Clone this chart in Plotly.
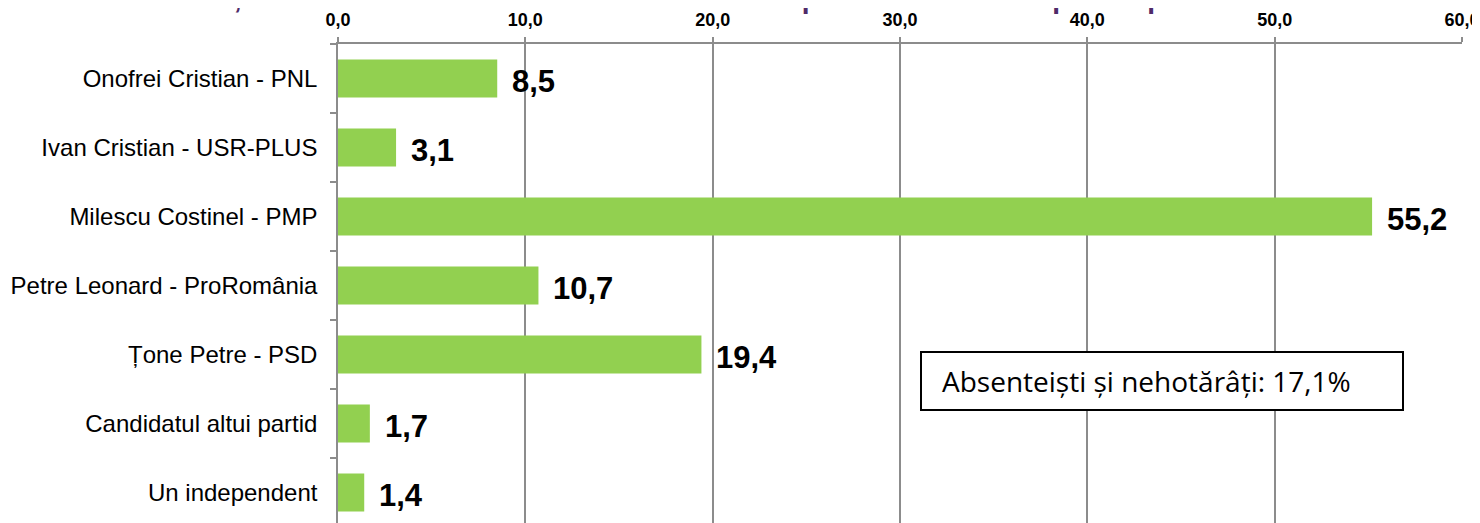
import plotly.graph_objects as go

categories = [
    "Onofrei Cristian - PNL",
    "Ivan Cristian - USR-PLUS",
    "Milescu Costinel - PMP",
    "Petre Leonard - ProRomânia",
    "Țone Petre - PSD",
    "Candidatul altui partid",
    "Un independent",
]
values = [8.5, 3.1, 55.2, 10.7, 19.4, 1.7, 1.4]
value_labels = ["8,5", "3,1", "55,2", "10,7", "19,4", "1,7", "1,4"]
x_ticks = [0, 10, 20, 30, 40, 50, 60]
x_tick_labels = ["0,0", "10,0", "20,0", "30,0", "40,0", "50,0", "60,0"]
note_text = "Absenteiști și nehotărâți: 17,1%"
title_text = "Întrebare, dacă duminică ar avea loc scrutinul de la primăria de sector pentru primar local?"

H = 515
T = 36
L = 330
PW = 1472 - L - 18
PH = H - T
CAT_PX = 69.0

def py(page_y):
    # page pixel (body offset 8) -> paper y
    return (H - (page_y - 8)) / PH

def px(page_x):
    return (page_x - 8 - L) / PW

fig = go.Figure()
fig.add_trace(go.Bar(
    x=values, y=categories, orientation="h",
    marker=dict(color="#92D050", line=dict(width=0)),
    width=0.55, hoverinfo="skip",
))

for v, lab, cat in zip(values, value_labels, categories):
    fig.add_annotation(
        x=v, y=cat, xref="x", yref="y", text=lab, showarrow=False,
        xanchor="left", yanchor="middle", xshift=13, yshift=-3,
        font=dict(family="Liberation Sans, Arial", size=31, color="#000000", weight="bold"),
    )

# title, clipped by the top edge as in the reference
fig.add_annotation(
    x=px(110), y=py(16), xref="paper", yref="paper", text=title_text, showarrow=False,
    xanchor="left", yanchor="bottom",
    font=dict(family="Liberation Sans, Arial", size=28, color="#4F2A68", weight="bold"),
)

fig.add_shape(type="rect", xref="paper", yref="paper",
              x0=px(921), x1=px(1403), y0=py(410), y1=py(352),
              line=dict(color="#000000", width=2), fillcolor="#FFFFFF", layer="above")
fig.add_annotation(
    x=px(940), y=py(381), xref="paper", yref="paper", text=note_text, showarrow=False,
    xanchor="left", yanchor="middle",
    font=dict(family="Open Sans", size=28, color="#000000"),
)

fig.update_layout(
    width=1472, height=H,
    margin=dict(l=L, r=18, t=T, b=0),
    paper_bgcolor="#FFFFFF", plot_bgcolor="#FFFFFF",
    showlegend=False, separators=",.",
    xaxis=dict(
        side="top", range=[0, 60], tickvals=x_ticks, ticktext=x_tick_labels,
        showgrid=True, gridcolor="#8C8C8C", gridwidth=1.5,
        zeroline=False, showline=True, linecolor="#8C8C8C", linewidth=1.5,
        ticks="outside", ticklen=5, tickcolor="#8C8C8C", tickwidth=1.5,
        tickfont=dict(family="Liberation Sans, Arial", size=18, color="#000000", weight="bold"),
        ticklabelstandoff=4,
    ),
    yaxis=dict(
        type="category", categoryorder="array", categoryarray=categories,
        range=[PH / CAT_PX - 0.5, -0.5], tickson="boundaries",
        showline=True, linecolor="#8C8C8C", linewidth=1.5, mirror=False,
        ticks="outside", ticklen=6, tickcolor="#8C8C8C", tickwidth=1.5,
        showgrid=False, zeroline=False,
        tickfont=dict(family="Liberation Sans, Arial", size=24, color="#000000"),
        ticklabelstandoff=14,
    ),
)

fig.write_html("out.html")
